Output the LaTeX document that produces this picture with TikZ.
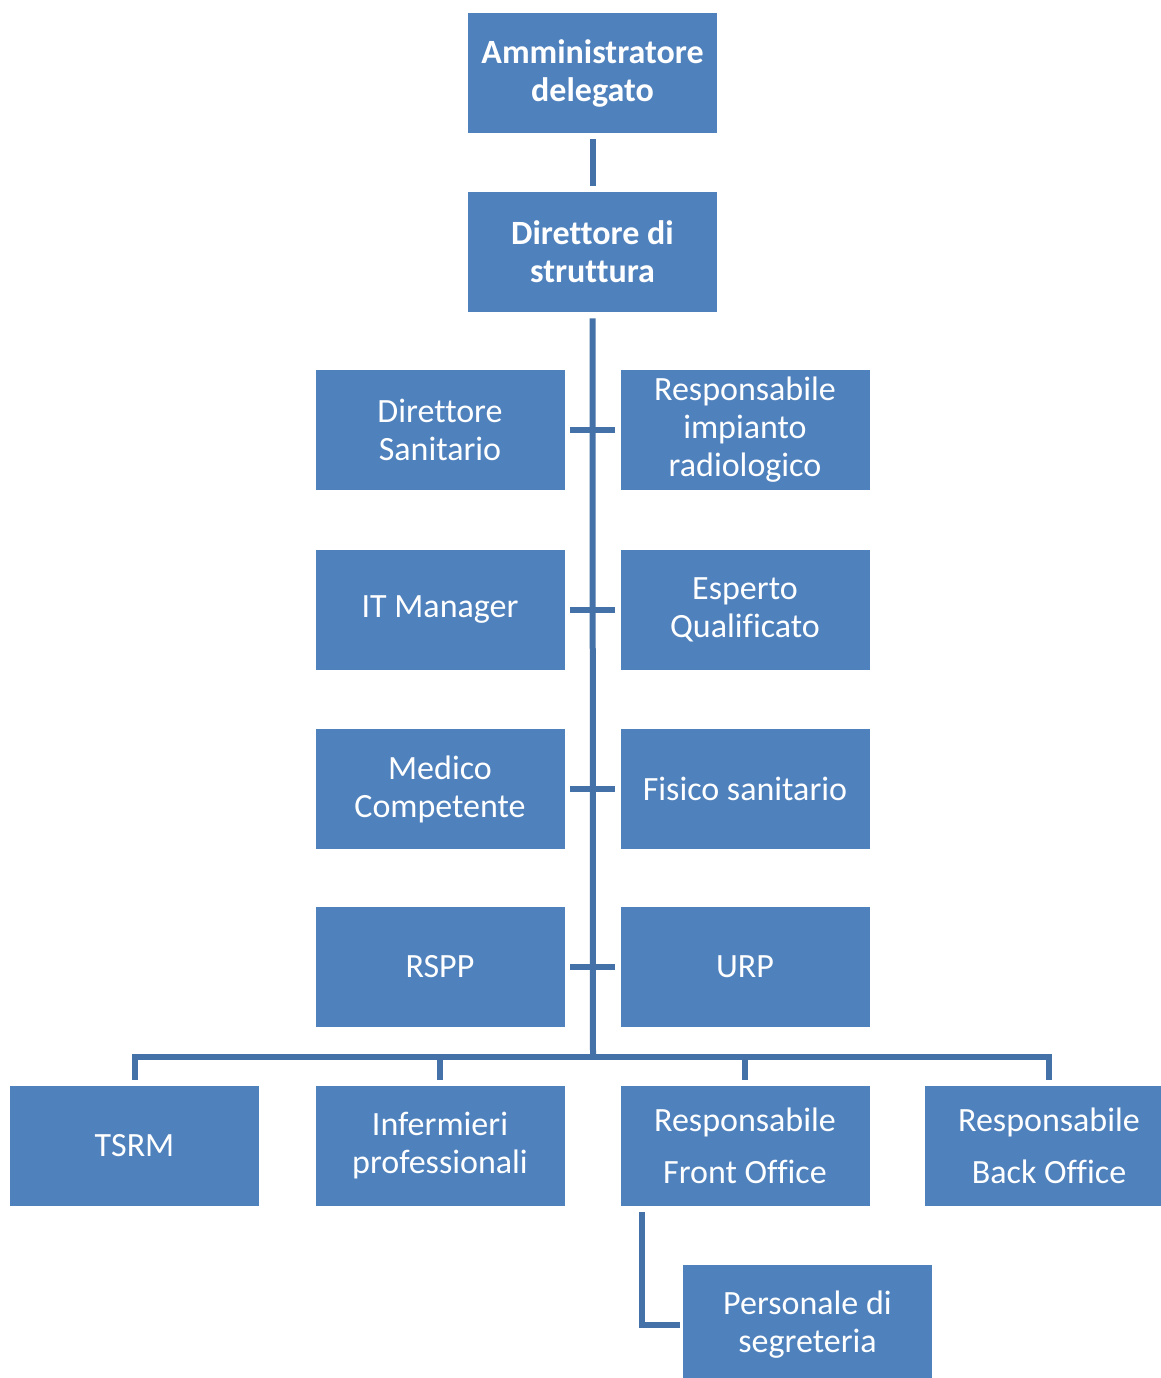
\documentclass[tikz,border=0pt]{standalone}
\usepackage{fontspec}
\setmainfont{Carlito}[Ligatures=NoCommon]
\usepackage{xcolor}
\definecolor{boxblue}{HTML}{4F81BD}
\definecolor{lineblue}{HTML}{4472A8}
\tikzset{
  role/.style={fill=boxblue,text=white,minimum width=124.5pt,minimum height=60pt,
    inner sep=2pt,align=center,font=\fontsize{17}{19}\selectfont},
  role head/.style={role,font=\fontsize{17}{19}\selectfont\bfseries},
  connect/.style={line width=3pt,lineblue},
  tick/.style={connect,shorten <=2.5pt,shorten >=2.5pt}
}
\begin{document}
\begin{tikzpicture}[x=0.5pt,y=-0.5pt]
    \useasboundingbox (0,0) rectangle (1161,1378);
    \node[role head] (ad) at (592.5,73) {Amministratore\\delegato};
    \node[role head] (dir) at (592.5,252) {Direttore di\\struttura};

    \node[role] (ds) at (440,430) {Direttore\\Sanitario};
    \node[role] (ria) at (745,430) {Responsabile\\impianto\\radiologico};
    \node[role] (itm) at (440,610) {IT Manager};
    \node[role] (eq) at (745,610) {Esperto\\Qualificato};
    \node[role] (mc) at (440,789) {Medico\\Competente};
    \node[role] (fs) at (745,789) {Fisico sanitario};
    \node[role] (rspp) at (440,967) {RSPP};
    \node[role] (urp) at (745,967) {URP};

    \node[role] (tsrm) at (134.5,1146) {TSRM};
    \node[role] (inf) at (440,1146) {Infermieri\\professionali};
    \node[role] (rfo) at (745,1146) {Responsabile\\[7pt]Front Office};
    \node[role] (rbo) at (1049,1146) {Responsabile\\[7pt]Back Office};
    \node[role] (pers) at (807.5,1324.5) {Personale di\\segreteria};

    \coordinate (bus) at (593,1057);

    \draw[connect,shorten <=3pt,shorten >=3pt] (ad) -- (dir);
    \draw[connect,shorten <=3pt] (dir) -- (bus);
    \draw[tick] (ds) -- (ria);
    \draw[tick] (itm) -- (eq);
    \draw[tick] (mc) -- (fs);
    \draw[tick] (rspp) -- (urp);

    \draw[connect,shorten <=3pt] (tsrm.north) |- (bus);
    \draw[connect,shorten <=3pt] (inf.north) |- (bus);
    \draw[connect,shorten <=3pt] (rfo.north) |- (bus);
    \draw[connect,shorten <=3pt] (rbo.north) |- (bus);
    \draw[connect,shorten <=3pt,shorten >=1.5pt] ([xshift=11pt]rfo.south west) |- (pers.west);
\end{tikzpicture}
\end{document}
